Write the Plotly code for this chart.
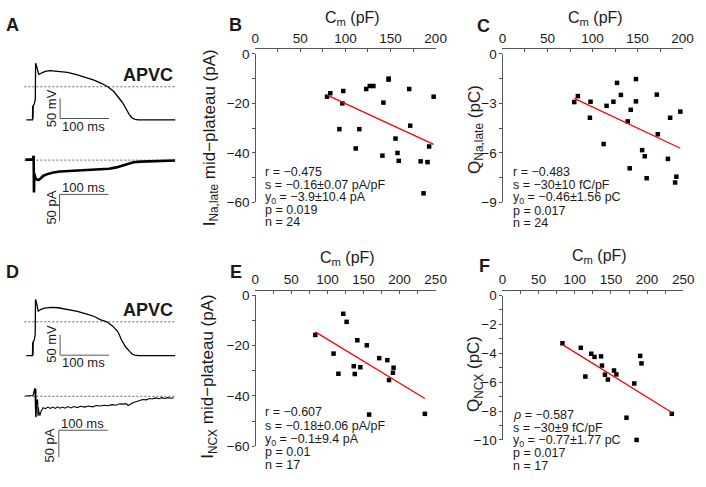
import plotly.graph_objects as go

W, H = 706, 487
FONT = "Liberation Sans, Arial, sans-serif"

# ---------------- data ----------------
# Panel B: Cm (pF) vs I_Na,late mid-plateau (pA)
b_cm = [79.6, 83.2, 97.6, 96.6, 93.3, 115.4, 111.4, 123.0, 127.0, 131.0, 147.9, 148.0,
        142.1, 170.7, 197.8, 171.8, 155.5, 157.7, 159.1, 141.0, 183.4, 191.0, 192.8, 186.6]
b_ina = [-17.3, -15.9, -15.0, -20.0, -30.4, -30.4, -38.2, -14.2, -13.0, -13.0, -10.4, -10.0,
         -19.7, -14.2, -17.3, -29.0, -34.2, -40.0, -43.2, -41.1, -43.4, -43.7, -37.4, -56.3]
b_fit = (-0.168, -3.3)  # slope, intercept as drawn
b_stats = ["r = −0.475", "s = −0.16±0.07 pA/pF", "y<sub>0</sub> = −3.9±10.4 pA", "p = 0.019", "n = 24"]

# Panel C: Cm (pF) vs Q_Na,late (pC)
c_cm = [79.7, 83.7, 97.8, 97.1, 112.3, 115.6, 123.2, 127.2, 131.5, 142.4, 139.1, 148.2,
        148.2, 141.3, 155.1, 158.0, 160.1, 171.4, 172.5, 186.2, 183.7, 193.1, 191.7, 197.5]
c_q = [-2.92, -2.56, -2.90, -3.87, -5.46, -3.15, -2.90, -1.76, -2.49, -3.39, -4.09, -1.53,
       -2.88, -6.93, -5.83, -6.20, -7.53, -2.47, -4.87, -3.87, -6.36, -7.44, -7.79, -3.50]
c_fit = (-0.0256, -0.66)
c_stats = ["r = −0.483", "s = −30±10 fC/pF", "y<sub>0</sub> = −0.46±1.56 pC", "p = 0.017", "n = 24"]

# Panel E: Cm (pF) vs I_NCX mid-plateau (pA)
e_cm = [83.2, 122.0, 126.6, 108.5, 115.3, 141.5, 136.5, 137.9, 145.6, 154.6, 171.8, 183.1,
        191.7, 190.8, 185.4, 157.8, 235.1]
e_incx = [-15.8, -7.4, -10.6, -23.2, -31.2, -17.9, -28.2, -31.3, -28.6, -19.9, -25.0, -25.8,
          -28.8, -30.8, -33.7, -47.4, -47.1]
e_fit = (-0.174, -0.12)
e_stats = ["r = −0.607", "s = −0.18±0.06 pA/pF", "y<sub>0</sub> = −0.1±9.4 pA", "p = 0.01", "n = 17"]

# Panel F: Cm (pF) vs Q_NCX (pC)
f_cm = [83.0, 108.3, 114.6, 122.7, 127.3, 136.3, 137.6, 141.7, 145.8, 154.3, 157.5, 171.5,
        182.3, 190.4, 192.2, 185.5, 234.2]
f_q = [-3.31, -3.62, -5.61, -4.03, -4.25, -4.21, -4.85, -5.48, -5.82, -5.19, -5.46, -8.46,
       -6.09, -4.18, -4.70, -10.0, -8.19]
f_fit = (-0.0311, -0.82)
f_stats = ["<i>ρ</i> = −0.587", "s = −30±9 fC/pF", "y<sub>0</sub> = −0.77±1.77 pC", "p = 0.017", "n = 17"]

# Panel A traces (time in ms, voltage in mV, current in pA)
a_ap_t = [-19, -7.6, -6.4, -6.0, -5.4, -4.8, -2.5, -0.6, 0, 1.4, 6.4, 11.4, 19.4, 29.4, 45.4,
          65.4, 85.4, 105.4, 119.4, 135.4, 147.4, 159.4, 169.4, 177.4, 185.4, 191.4, 197.4,
          203.4, 209.4, 285.4]
a_ap_v = [-81.4, -81.4, -81.4, -47, -80, -46, -42, -30, 57.9, 53.1, 30.5, 32.9, 37.6, 39.5, 38.3,
          35.2, 29.3, 22.1, 16.2, 7.9, 0, -11.2, -25.5, -38.6, -55.2, -68.3, -76.7,
          -80.2, -81.4, -81.4]
a_i_t = [-21, -6, -5, -4.6, -4.0, -3.4, -2.6, -1, 2, 6, 10, 16, 24, 36, 50, 70, 90, 110, 130,
         150, 165, 178, 190, 200, 215, 235, 260, 285]
a_i_v = [1, 1, 4, -58, 8, -60, -25, -32, -36, -37, -34, -29, -26, -23, -21, -19.8, -19, -18.3,
         -17.4, -16, -13.5, -10, -6, -3.8, -2.8, -2, -1.2, -0.6]

# Panel D traces
d_ap_t = [-19, -7.5, -6.4, -6.0, -5.4, -4.8, -2.5, -0.8, -0.2, 1.2, 5.4, 10, 18, 32, 46, 65,
          85.4, 105, 120, 132, 145.4, 157, 168, 175.4, 184, 192, 198, 203, 210, 285]
d_ap_v = [-83, -83, -83, -50, -82, -48, -44, -30, 55, 50, 26, 30, 33.6, 35.5, 34.5, 31,
          25.7, 19, 13, 5.5, 0, -10, -24, -44, -62, -72.6, -79.8, -82, -83.3, -83.3]
d_i_t = [-21, -8, -5.5, -1.6, -1.3, -1.0, -0.6, -0.2, 0.2, 0.6, 1.0, 1.4, 2.2, 4.2, 4.8, 5.5,
         6.8, 8.8, 11, 15.4, 20, 25, 30, 35, 40,
         45, 50, 55, 60, 66, 72, 78, 85, 92, 100, 108, 116, 124, 132, 140, 148, 156, 164, 172,
         180, 185, 189, 194, 199, 205, 212, 219, 226, 232, 238, 245, 252, 258, 264, 270, 276, 282]
d_i_v = [0.5, 0.5, 1.5, 15, -39, 14, -39, 15, -39, 14, -38, 12, -8, -6, -37, -20,
         -30, -36, -28, -21, -23, -20, -22.5, -20,
         -22.5, -19.5, -22, -20, -22, -19, -21.5, -19, -21, -18.5, -20, -18, -19.5, -17, -18,
         -16.5, -17.5, -15.5, -16.5, -14, -14.5, -13.5, -17, -14, -12, -10, -8, -6, -6.5, -4,
         -5, -3, -4.5, -2.5, -4, -2.5, -3.5, -2.8]

scale_t = 100   # ms
scale_v = 50    # mV
scale_i = 50    # pA

# ---------------- layout helpers ----------------
def fx(px):
    return px / W

def fy(py):
    return 1 - py / H

fig = go.Figure()
layout = dict(width=W, height=H, margin=dict(l=0, r=0, t=0, b=0),
              paper_bgcolor="white", plot_bgcolor="rgba(0,0,0,0)", showlegend=False,
              font=dict(family=FONT, color="#1a1a1a"))
annotations = []

def ann(text, px, py, size, bold=False, angle=0, xanchor="center", yanchor="middle"):
    if bold:
        text = "<b>" + text + "</b>"
    annotations.append(dict(text=text, x=fx(px), y=fy(py), xref="paper", yref="paper",
                            showarrow=False, xanchor=xanchor, yanchor=yanchor,
                            textangle=angle, font=dict(size=size, family=FONT, color="#1a1a1a")))

# ----- trace panels (hidden axes). px/ms = 0.5, px/mV = 0.42, px/pA = 0.555
T0_PX = 32.3
MS_PX = 0.5
MV_PX = 0.42
PA_PX = 0.555
X_PX = (15, 185)

def hidden_axes(idx, zero_py, per_unit, py_top, py_bot):
    xr = [(X_PX[0] - T0_PX) / MS_PX, (X_PX[1] - T0_PX) / MS_PX]
    yr = [(zero_py - py_bot) / per_unit, (zero_py - py_top) / per_unit]
    layout["xaxis%d" % idx] = dict(domain=[fx(X_PX[0]), fx(X_PX[1])], range=xr, visible=False,
                                   anchor="y%d" % idx)
    layout["yaxis%d" % idx] = dict(domain=[fy(py_bot), fy(py_top)], range=yr, visible=False,
                                   anchor="x%d" % idx)

hidden_axes(1, 82.3, MV_PX, 45, 128)      # A voltage
hidden_axes(2, 158.0, PA_PX, 140, 228)    # A current
hidden_axes(3, 324.8, MV_PX, 288, 371)    # D voltage
hidden_axes(4, 401.7, PA_PX, 383, 470)    # D current

AX = "#555555"

def trace_panel(ax_v, ax_i, ap_t, ap_v, i_t, i_v, iw, v_bar_corner, i_bar_corner):
    xa_v, ya_v = "x%d" % ax_v, "y%d" % ax_v
    xa_i, ya_i = "x%d" % ax_i, "y%d" % ax_i
    fig.add_trace(go.Scatter(x=[-23, 287], y=[0, 0], mode="lines", xaxis=xa_v, yaxis=ya_v,
                             line=dict(color="#666", width=1, dash="2px,2px"), hoverinfo="skip"))
    fig.add_trace(go.Scatter(x=[-23, 287], y=[0, 0], mode="lines", xaxis=xa_i, yaxis=ya_i,
                             line=dict(color="#666", width=1, dash="2px,2px"), hoverinfo="skip"))
    fig.add_trace(go.Scatter(x=ap_t, y=ap_v, mode="lines", xaxis=xa_v, yaxis=ya_v,
                             line=dict(color="black", width=1.3), hoverinfo="skip"))
    fig.add_trace(go.Scatter(x=i_t, y=i_v, mode="lines", xaxis=xa_i, yaxis=ya_i,
                             line=dict(color="black", width=iw), hoverinfo="skip"))
    t0, v0 = v_bar_corner
    fig.add_trace(go.Scatter(x=[t0, t0, t0 + scale_t], y=[v0 + scale_v, v0, v0], mode="lines",
                             xaxis=xa_v, yaxis=ya_v, line=dict(color=AX, width=1), hoverinfo="skip"))
    t1, i1 = i_bar_corner
    fig.add_trace(go.Scatter(x=[t1, t1, t1 + scale_t], y=[i1 - scale_i, i1, i1], mode="lines",
                             xaxis=xa_i, yaxis=ya_i, line=dict(color=AX, width=1), hoverinfo="skip"))

trace_panel(1, 2, a_ap_t, a_ap_v, a_i_t, a_i_v, 2.6, (50, -78), (49, -63.7))
trace_panel(3, 4, d_ap_t, d_ap_v, d_i_t, d_i_v, 1.1, (50, -82), (47.4, -63))

for dy in (0, 243):
    ann("APVC", 147, 70 + dy, 18, bold=True)
    ann("50 mV", 48.5, 104 + dy, 13, angle=-90)
    ann("100 ms", 81.7, 123.5 + dy, 13)
ann("100 ms", 81.7, 186.7, 13)
ann("50 pA", 48.3, 206.7, 13, angle=-90)
ann("100 ms", 80.5, 430, 13)
ann("50 pA", 47, 452.5, 13, angle=-90)

# ----- scatter panels
TICKF = dict(size=13.5, family=FONT, color="#1a1a1a")

def scatter_panel(idx, cm, vals, fit, xmax, xline_py, x_px, y_px, yr, ytv, ymin_dt):
    xa = dict(domain=[fx(x_px[0]), fx(x_px[1])], range=[0, xmax], side="top", anchor="free",
              position=fy(xline_py), showline=True, linecolor=AX, linewidth=1,
              ticks="inside", ticklen=3, tickcolor=AX, tickwidth=1,
              tickvals=list(range(0, xmax + 1, 50)),
              minor=dict(dtick=25, tick0=0, ticks="inside", ticklen=3, tickcolor=AX),
              tickfont=TICKF, showgrid=False, zeroline=False, fixedrange=True)
    ya = dict(domain=[fy(y_px[1]), fy(y_px[0])], range=yr, anchor="free", position=fx(x_px[0]),
              showline=True, linecolor=AX, linewidth=1, ticks="outside", ticklen=3,
              tickcolor=AX, tickwidth=1, tickvals=ytv,
              minor=dict(dtick=ymin_dt, tick0=0, ticks="outside", ticklen=3, tickcolor=AX),
              tickfont=TICKF, showgrid=False, zeroline=False, fixedrange=True)
    layout["xaxis%d" % idx] = xa
    layout["yaxis%d" % idx] = ya
    fig.add_trace(go.Scatter(x=cm, y=vals, mode="markers", xaxis="x%d" % idx, yaxis="y%d" % idx,
                             marker=dict(symbol="square", size=4.5, color="black"),
                             cliponaxis=False, hoverinfo="skip"))
    xs = [min(cm), max(cm)]
    fig.add_trace(go.Scatter(x=xs, y=[fit[1] + fit[0] * v for v in xs], mode="lines",
                             xaxis="x%d" % idx, yaxis="y%d" % idx,
                             line=dict(color="#ff0000", width=1.3), hoverinfo="skip"))

scatter_panel(5, b_cm, b_ina, b_fit, 200, 42.3, (256.7, 441), (48.3, 201.7), [-60, 0],
              [0, -20, -40, -60], 10)
scatter_panel(6, c_cm, c_q, c_fit, 200, 42.3, (509.3, 693.3), (48.3, 201.7), [-9, 0],
              [0, -3, -6, -9], 1.5)
scatter_panel(7, e_cm, e_incx, e_fit, 250, 291.7, (256.7, 441), (297.3, 453.3), [-60, 0],
              [0, -20, -40, -60], 10)
scatter_panel(8, f_cm, f_q, f_fit, 250, 291.7, (509.3, 694), (297.7, 446.7), [-10, 0],
              [0, -2, -4, -6, -8, -10], 1)

# axis titles
ann("C<sub>m</sub> (pF)", 356, 12, 16)
ann("C<sub>m</sub> (pF)", 604, 12, 16)
ann("C<sub>m</sub> (pF)", 351, 259, 16)
ann("C<sub>m</sub> (pF)", 608, 257.5, 16)
ann("I<sub>Na,late</sub> mid−plateau (pA)", 211, 135, 17, angle=-90)
ann("Q<sub>Na,late</sub> (pC)", 482, 126, 17, angle=-90)
ann("I<sub>NCX</sub> mid−plateau (pA)", 210, 381, 17, angle=-90)
ann("Q<sub>NCX</sub> (pC)", 482, 379, 17, angle=-90)

# stats text
def stats(lines, px, pys):
    for t, py in zip(lines, pys):
        ann(t, px, py, 12.5, xanchor="left")

stats(b_stats, 265, [170, 183.3, 196.7, 209.5, 222.3])
stats(c_stats, 517.5, [170, 183.3, 196.7, 210, 222.7])
stats(e_stats, 264.5, [418.3, 432.5, 446.5, 459.5, 472.7])
stats(f_stats, 518.5, [421, 434.3, 447.3, 460, 473.3])

# panel letters
ann("A", 8.5, 19, 18, bold=True)
ann("B", 237, 19, 18, bold=True)
ann("C", 489.5, 19.5, 18, bold=True)
ann("D", 9, 273, 18, bold=True)
ann("E", 237, 273, 18, bold=True)
ann("F", 491, 267.5, 18, bold=True)

layout["annotations"] = annotations
fig.update_layout(**layout)
fig.write_html("out.html")
